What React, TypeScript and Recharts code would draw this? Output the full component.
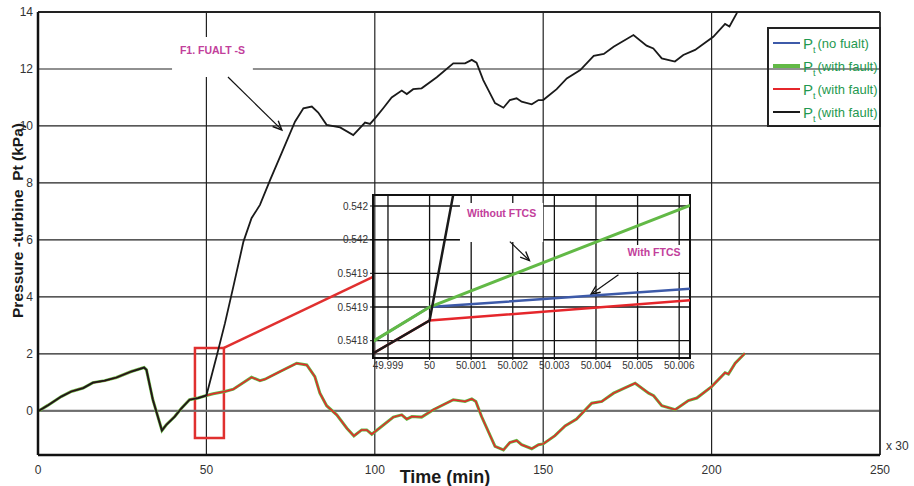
import React from "react"
import {
  LineChart,
  Line,
  XAxis,
  YAxis,
  CartesianGrid,
  ReferenceLine,
  ReferenceArea,
} from "recharts"

// main chart: time (min) and turbine pressure (kPa)
const xTicks = [0, 50, 100, 150, 200, 250]
const yTicks = [0, 2, 4, 6, 8, 10, 12, 14]

// shared stretch before the fault (0 - 50 min)
const earlyT = [0, 0.5, 3, 6.9, 9.9, 13.4, 16.3, 19.8, 23.3, 27.7, 31.5, 32.2, 34.1, 36.8, 38.1, 40.6, 42.6, 45, 47.5, 50]
const earlyP = [0, 0.02, 0.2, 0.5, 0.68, 0.8, 0.99, 1.06, 1.17, 1.38, 1.52, 1.44, 0.39, -0.69, -0.49, -0.2, 0.09, 0.39, 0.45, 0.54]

// lower curve after 50 min (no fault / with fault, compensated)
const lowT = [52, 55.5, 58, 63.4, 65.9, 67.4, 71.9, 76.8, 79.8, 82.2, 83.7, 85.7, 88.7, 91.7, 93.8, 96.1, 97.6, 99.1, 102, 105.5, 108, 109.5, 111, 113.9, 117.4, 123.3, 126.8, 128.8, 130, 131.7, 135.7, 138.2, 140.1, 142.1, 143.6, 146.6, 148.6, 150, 153.5, 156.5, 159.9, 164.4, 167.4, 170.9, 177.3, 181.3, 182.8, 185.2, 189.2, 193.1, 195.6, 200, 204, 205, 207, 209.9]
const lowP = [0.6, 0.68, 0.76, 1.18, 1.06, 1.11, 1.38, 1.67, 1.61, 1.2, 0.62, 0.18, -0.14, -0.61, -0.88, -0.67, -0.67, -0.82, -0.55, -0.22, -0.14, -0.29, -0.2, -0.22, 0.04, 0.39, 0.33, 0.42, 0.33, -0.2, -1.25, -1.37, -1.11, -1.04, -1.19, -1.33, -1.19, -1.16, -0.87, -0.53, -0.29, 0.27, 0.33, 0.62, 0.97, 0.62, 0.53, 0.18, 0.04, 0.36, 0.45, 0.85, 1.34, 1.29, 1.67, 2.02]

// faulty curve after 50 min
const riseT = [53, 55.5, 58, 61, 63.4, 65.9, 68.9, 72.3, 76.3, 78.8, 81.3, 83.2, 85.7, 89.7, 93.6, 97.1, 98.6, 100.3, 102.5, 105, 108, 109.5, 111.4, 113.9, 118.4, 123.3, 126.8, 128.8, 130.2, 132.2, 135.7, 138.2, 140.1, 142.1, 143.6, 146.6, 148.6, 150, 154, 157, 161, 165, 168, 170.9, 176.8, 180.7, 182.7, 185.2, 189.1, 191.6, 195.1, 200.5, 204, 205.3, 207.4, 209]
const riseP = [1.9, 3.07, 4.36, 5.94, 6.76, 7.23, 8.1, 9.04, 10.15, 10.62, 10.68, 10.47, 10.04, 9.95, 9.68, 10.12, 10.07, 10.3, 10.62, 11.0, 11.24, 11.12, 11.29, 11.32, 11.71, 12.2, 12.2, 12.32, 12.22, 11.61, 10.8, 10.64, 10.91, 10.97, 10.85, 10.76, 10.91, 10.91, 11.29, 11.67, 11.96, 12.46, 12.53, 12.78, 13.19, 12.82, 12.72, 12.37, 12.26, 12.49, 12.67, 13.13, 13.58, 13.49, 13.94, 14.4]

// zoomed inset around t = 50
const insetXTicks = [49.999, 50, 50.001, 50.002, 50.003, 50.004, 50.005, 50.006]
const insetXLabels = ["49.999", "50", "50.001", "50.002", "50.003", "50.004", "50.005", "50.006"]
const insetYTicks = [0.5418, 0.54185, 0.5419, 0.54195, 0.542]
const insetYLabels = ["0.5418", "0.5419", "0.5419", "0.542", "0.542"]
const insetT = [49.99864, 50, 50.00626]
const insetBlue = [0.541799, 0.54185, 0.541877]
const insetGreen = [0.541799, 0.54185, 0.542001]
const insetRed = [0.541781, 0.54183, 0.54186]
const insetBlackT = [49.99864, 50, 50.0007]
const insetBlackP = [0.541781, 0.54183, 0.54206]

const legendLabels = ["(no fualt)", "(with fault)", "(with fault)", "(with fault)"]

const COLORS = ["#3d5aa9", "#62b946", "#e5262b", "#1a1a1a"]
const LEGEND_WIDTHS = [1.5, 3.5, 1.5, 2]
const MAGENTA = "#c2409b"
const FONT = "'Liberation Sans', Arial, sans-serif"

const toPts = (ts: number[], ps: number[]) => ts.map((t, i) => ({ t, p: ps[i] }))

const earlyData = toPts(earlyT, earlyP)
const lowerData = [...earlyData, ...toPts(lowT, lowP)]
const faultData = [...earlyData, ...toPts(riseT, riseP)]

const insetBlueData = toPts(insetT, insetBlue)
const insetGreenData = toPts(insetT, insetGreen)
const insetRedData = toPts(insetT, insetRed)
const insetBlackData = toPts(insetBlackT, insetBlackP)

const labelFor = (ticks: number[], labels: string[]) => (v: number) => {
  const i = ticks.findIndex((t) => Math.abs(t - v) < 1e-9)
  return i >= 0 ? labels[i] : ""
}

// line with an open arrow head at the end
function Arrow(props: any) {
  const { x1, y1, x2, y2 } = props
  if ([x1, y1, x2, y2].some((v) => typeof v !== "number")) return null
  const a = Math.atan2(y2 - y1, x2 - x1)
  const L = 9
  const W = 4
  const bx = x2 - L * Math.cos(a)
  const by = y2 - L * Math.sin(a)
  const p1 = `${bx + W * Math.sin(a)},${by - W * Math.cos(a)}`
  const p2 = `${bx - W * Math.sin(a)},${by + W * Math.cos(a)}`
  return (
    <g>
      <line x1={x1} y1={y1} x2={x2} y2={y2} stroke="#111" strokeWidth={1.2} />
      <polyline points={`${p1} ${x2},${y2} ${p2}`} fill="none" stroke="#111" strokeWidth={1.4} />
    </g>
  )
}

function RedConnector(props: any) {
  const { x1, y1, x2, y2 } = props
  if ([x1, y1, x2, y2].some((v) => typeof v !== "number")) return null
  return <line x1={x1} y1={y1} x2={x2} y2={y2} stroke="#e0302f" strokeWidth={2.5} />
}

const XTitle = () => (
  <text x={445} y={483} textAnchor="middle" fontWeight="bold" fontSize={18} fill="#1a1a1a">
    Time (min)
  </text>
)

const annotationLabel = (value: string, offset: number) => ({
  value,
  position: "insideTop" as const,
  offset,
  fill: MAGENTA,
  fontSize: 10.5,
  fontWeight: "bold",
})

export default function App() {
  const tickStyle = { fontSize: 12, fill: "#333" }
  const insetTick = { fontSize: 10, fill: "#333" }

  return (
    <div style={{ position: "absolute", left: 0, top: 0, width: 914, height: 486, background: "#fff", fontFamily: FONT }}>
      {/* y title sits under the chart so tick labels stay readable */}
      <svg width={40} height={486} style={{ position: "absolute", left: 0, top: 0 }}>
        <text
          x={0}
          y={0}
          transform="translate(23,220.5) rotate(-90)"
          textAnchor="middle"
          fontWeight="bold"
          fontSize={15.5}
          fill="#1a1a1a"
          textLength={195}
          lengthAdjust="spacingAndGlyphs"
          style={{ whiteSpace: "pre" }}
        >
          Pressure -turbine  Pt (kPa)
        </text>
      </svg>

      <LineChart width={914} height={486} margin={{ top: 12, right: 34, bottom: 1, left: 0 }}>
        <CartesianGrid stroke="#222" strokeWidth={1.2} />
        <XAxis
          type="number"
          dataKey="t"
          domain={[0, 250]}
          ticks={xTicks}
          interval={0}
          height={30}
          tickLine={false}
          tickSize={6}
          tickMargin={4}
          axisLine={{ stroke: "#111", strokeWidth: 2.5 }}
          tick={tickStyle}
          allowDataOverflow
          label={<XTitle />}
        />
        <YAxis
          type="number"
          domain={[-1.55, 14]}
          ticks={yTicks}
          interval={0}
          width={38}
          tickLine={false}
          tickSize={4}
          tickMargin={1}
          axisLine={{ stroke: "#111", strokeWidth: 2.5 }}
          tick={tickStyle}
          allowDataOverflow
        />
        <ReferenceLine y={0} stroke="#6e6e6e" strokeWidth={2} />
        <ReferenceLine x={250} stroke="#222" strokeWidth={1.5} />
        <ReferenceLine y={14} stroke="#222" strokeWidth={2} />

        <ReferenceArea x1={39.8} x2={63.8} y1={11.72} y2={13.12} fill="#fff" fillOpacity={1} stroke="none" label={annotationLabel("F1.  FUALT -S", 9)} />
        <ReferenceLine segment={[{ x: 56.4, y: 11.72 }, { x: 72.4, y: 9.86 }]} shape={Arrow} />

        <Line data={lowerData} dataKey="p" name="no fault" stroke={COLORS[0]} strokeWidth={1.5} dot={false} isAnimationActive={false} />
        <Line data={lowerData} dataKey="p" name="with fault" stroke={COLORS[1]} strokeWidth={3} dot={false} isAnimationActive={false} />
        <Line data={lowerData} dataKey="p" name="with fault" stroke={COLORS[2]} strokeWidth={1.5} dot={false} isAnimationActive={false} />
        <Line data={faultData} dataKey="p" name="with fault" stroke={COLORS[3]} strokeWidth={1.8} dot={false} isAnimationActive={false} />

        <ReferenceArea x1={46.6} x2={55.2} y1={-0.95} y2={2.21} fill="none" stroke="#e0302f" strokeWidth={2.5} />
        <ReferenceLine segment={[{ x: 55.2, y: 2.21 }, { x: 99.47, y: 4.7 }]} shape={RedConnector} />
      </LineChart>

      {/* zoomed inset */}
      <div style={{ position: "absolute", left: 328, top: 190, width: 384, height: 192 }}>
        <LineChart width={384} height={192} margin={{ top: 5, right: 22, bottom: 0, left: 0 }}>
          <CartesianGrid stroke="#111" strokeWidth={1.3} />
          <XAxis
            type="number"
            dataKey="t"
            domain={[49.99864, 50.00626]}
            ticks={insetXTicks}
            interval={0}
            tickFormatter={labelFor(insetXTicks, insetXLabels)}
            height={24}
            tickSize={2}
            tickMargin={2}
            axisLine={{ stroke: "#111", strokeWidth: 2 }}
            tickLine={{ stroke: "#111" }}
            tick={insetTick}
            allowDataOverflow
          />
          <YAxis
            type="number"
            domain={[0.5417743, 0.5420163]}
            ticks={insetYTicks}
            interval={0}
            tickFormatter={labelFor(insetYTicks, insetYLabels)}
            width={45}
            tickSize={3}
            tickMargin={2}
            axisLine={{ stroke: "#111", strokeWidth: 2 }}
            tickLine={{ stroke: "#111" }}
            tick={insetTick}
            allowDataOverflow
          />
          <ReferenceArea x1={50.00073} x2={50.00273} y1={0.5419466} y2={0.5420045} fill="#fff" fillOpacity={1} stroke="none" label={annotationLabel("Without FTCS", 7)} />
          <ReferenceArea x1={50.00453} x2={50.00626} y1={0.541902} y2={0.541942} fill="#fff" fillOpacity={1} stroke="none" label={annotationLabel("With FTCS", 3)} />
          <ReferenceLine segment={[{ x: 50.00193, y: 0.541947 }, { x: 50.0024, y: 0.541919 }]} shape={Arrow} />
          <ReferenceLine segment={[{ x: 50.00454, y: 0.541898 }, { x: 50.00388, y: 0.541869 }]} shape={Arrow} />

          <Line data={insetBlueData} dataKey="p" stroke={COLORS[0]} strokeWidth={2.5} dot={false} isAnimationActive={false} />
          <Line data={insetGreenData} dataKey="p" stroke={COLORS[1]} strokeWidth={3} dot={false} isAnimationActive={false} />
          <Line data={insetRedData} dataKey="p" stroke={COLORS[2]} strokeWidth={2.5} dot={false} isAnimationActive={false} />
          <Line data={insetBlackData} dataKey="p" stroke={COLORS[3]} strokeWidth={2.5} dot={false} isAnimationActive={false} />

          <ReferenceArea x1={49.99864} x2={50.00626} y1={0.5417743} y2={0.5420163} fill="none" stroke="#111" strokeWidth={2} ifOverflow="visible" />
        </LineChart>
      </div>

      {/* legend */}
      <div style={{ position: "absolute", left: 767, top: 27, width: 114, height: 100, border: "2px solid #222", boxSizing: "border-box" }}>
        {legendLabels.map((label, i) => (
          <div key={i} style={{ position: "absolute", left: 4, top: 4 + i * 23, height: 20, display: "flex", alignItems: "center", whiteSpace: "nowrap" }}>
            <div style={{ width: 27, height: LEGEND_WIDTHS[i], background: COLORS[i], marginRight: 3 }} />
            <span style={{ color: "#1f9950", fontSize: 15, lineHeight: "15px" }}>P</span>
            <span style={{ color: "#1f9950", fontSize: 9, position: "relative", top: 7, marginRight: 2 }}>t</span>
            <span style={{ color: "#1f9950", fontSize: 13 }}>{label}</span>
          </div>
        ))}
      </div>

      <div style={{ position: "absolute", left: 886, top: 439, fontSize: 12, color: "#333" }}>x 30</div>
    </div>
  )
}
